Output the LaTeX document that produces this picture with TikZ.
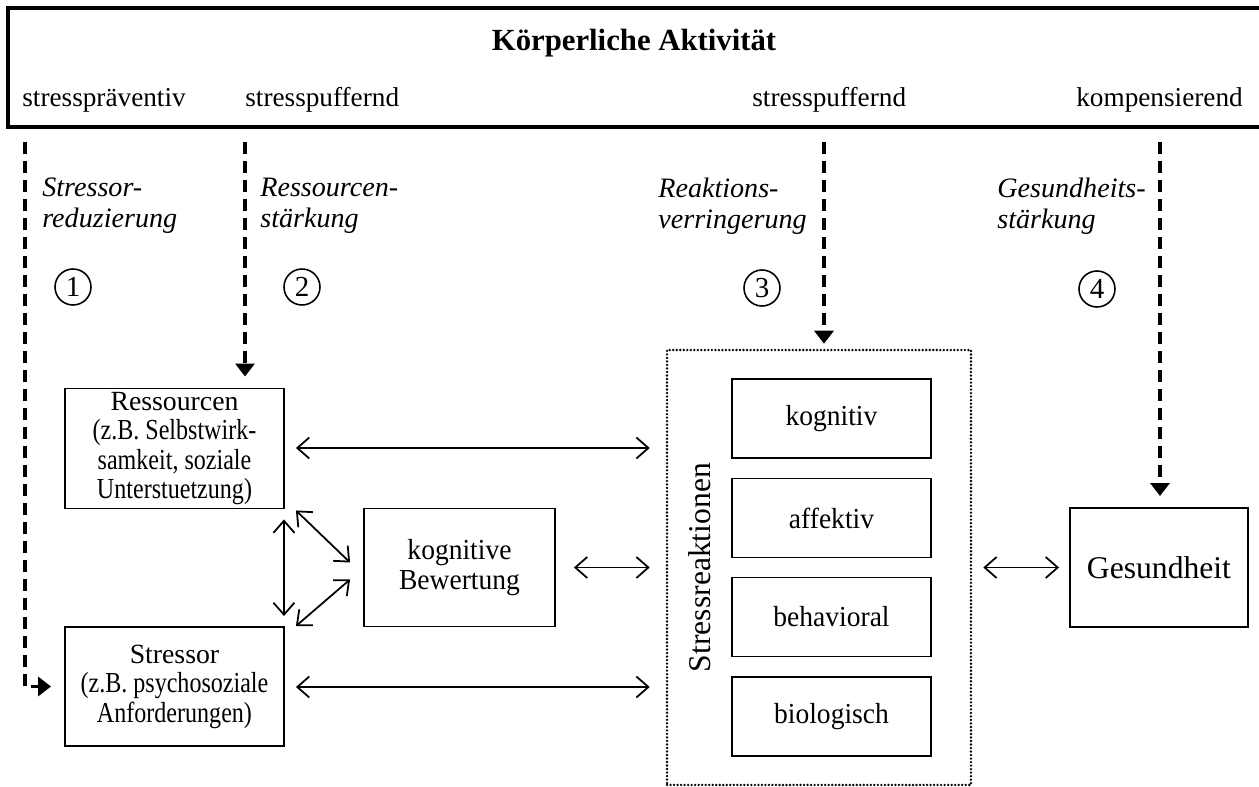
\documentclass[tikz,border=0pt]{standalone}
\usepackage{fontspec}
\setmainfont{Liberation Serif}
\newfontfamily\schmal{Liberation Serif}[FakeStretch=0.83]
\newfontfamily\halbschmal{Liberation Serif}[FakeStretch=0.95]
\usetikzlibrary{arrows.meta,positioning,calc}
\newcommand\grundschrift{\fontsize{15.5}{17}\selectfont}
\newcommand\kopfzeile[1]{{\rmfamily\fontsize{15.8}{16.8}\selectfont #1}}

\begin{document}
\begin{tikzpicture}[x=0.02cm, y=-0.02cm,
    kasten/.style={draw, line width=1.1pt, align=center, inner sep=2pt, font=\halbschmal\fontsize{16.5}{17}\selectfont},
    breitkasten/.style={kasten, minimum width=4.38cm, minimum height=2.38cm, font=\schmal\fontsize{16.5}{16.8}\selectfont},
    teilkasten/.style={kasten, minimum width=3.98cm, minimum height=1.58cm},
    etikett/.style={inner sep=0pt, anchor=base west, font=\grundschrift},
    wirkung/.style={inner sep=0pt, anchor=north west, align=left, font=\fontsize{16}{17.5}\selectfont\itshape},
    ziffer/.style={draw, circle, line width=0.9pt, inner sep=0pt, minimum size=0.72cm, font=\fontsize{16.5}{17}\selectfont},
    strichpfeil/.style={line width=2.1pt, dash pattern=on 0.24cm off 0.14cm, -{Triangle[length=2.6mm,width=3.8mm]}},
    doppelpfeil/.style={line width=1pt, {Straight Barb[length=2.4mm,width=4.2mm]}-{Straight Barb[length=2.4mm,width=4.2mm]}}
  ]
  \useasboundingbox (0,0) rectangle (1259,787);

  % Kopfleiste
  \draw[line width=2.2pt] (1259,8) -| (8,127) -- (1259,127);
  \node[font=\fontsize{17.5}{19}\selectfont\bfseries] (aktiv) at (634,43) {Körperliche Aktivität};
  \node[etikett] (praev) at (22,107) {stresspräventiv};
  \node[etikett] (puffer1) at (245,107) {stresspuffernd};
  \node[etikett] (puffer2) at (752,107) {stresspuffernd};
  \node[etikett] (kompens) at (1076,107) {kompensierend};

  % Wirkwege
  \node[wirkung] (weg1) at (42,178) {Stressor-\\reduzierung};
  \node[wirkung] (weg2) at (260,178) {Ressourcen-\\stärkung};
  \node[wirkung] (weg3) at (658,178) {Reaktions-\\verringerung};
  \node[wirkung] (weg4) at (997,178) {Gesundheits-\\stärkung};
  \node[ziffer] (z1) at (73,287) {1};
  \node[ziffer] (z2) at (302,287) {2};
  \node[ziffer] (z3) at (762,288) {3};
  \node[ziffer] (z4) at (1097,289) {4};

  % Kästen
  \node[breitkasten] (ress) at (174.5,448.5)
    {\kopfzeile{Ressourcen}\\(z.B. Selbstwirk-\\samkeit, soziale\\Unterstuetzung)};
  \node[breitkasten] (stressor) at (174.5,686.5)
    {\kopfzeile{Stressor}\\(z.B. psychosoziale\\Anforderungen)};
  \node[kasten, minimum width=3.82cm, minimum height=2.36cm] (bewert) at (459.5,567.5)
    {kognitive\\Bewertung};
  \node[draw, line width=1.5pt, line cap=round, dash pattern=on 0pt off 2pt,
        minimum width=6.08cm, minimum height=8.7cm] (reakt) at (819,567.5) {};
  \node[rotate=90, inner sep=0pt, font=\fontsize{18}{20}\selectfont] (reakttitel) at (700,567.5) {Stressreaktionen};
  \node[teilkasten] (kogn) at (831.5,418.5) {kognitiv};
  \node[teilkasten] (affekt) at (831.5,518) {affektiv};
  \node[teilkasten] (behav) at (831.5,617) {behavioral};
  \node[teilkasten] (bio) at (831.5,716.5) {biologisch};
  \node[kasten, minimum width=3.56cm, minimum height=2.38cm,
        font=\fontsize{18}{20}\selectfont] (gesund) at (1159,567.5) {Gesundheit};

  % gestrichelte Zugänge
  \coordinate (s1) at (25,142);
  \coordinate (s2) at (245,142);
  \coordinate (s3) at (824,142);
  \coordinate (s4) at (1160,142);
  \draw[strichpfeil, shorten >=0.26cm] (s1) |- (stressor.west);
  \draw[strichpfeil, shorten >=0.22cm] (s2) -- (s2 |- ress.north);
  \draw[strichpfeil, shorten >=0.1cm] (s3) -- (s3 |- reakt.north);
  \draw[strichpfeil, shorten >=0.22cm] (s4) -- (s4 |- gesund.north);

  % Wechselwirkungen
  \draw[doppelpfeil, shorten <=0.22cm, shorten >=0.32cm] (ress.east |- 0,448) -- (reakt.west |- 0,448);
  \draw[doppelpfeil, shorten <=0.22cm, shorten >=0.32cm] (stressor.east |- 0,687) -- (reakt.west |- 0,687);
  \draw[doppelpfeil, shorten <=0.36cm, shorten >=0.32cm] (bewert.east) -- (reakt.west |- bewert.east);
  \draw[doppelpfeil, shorten <=0.22cm, shorten >=0.2cm] (reakt.east |- gesund.west) -- (gesund.west);
  \draw[doppelpfeil] ($(ress.south east)+(-1,10)$) -- ($(stressor.north east)+(-1,-10)$);
  \draw[doppelpfeil] ($(ress.south east)+(11,1)$) -- ($(bewert.west)+(-13,-5)$);
  \draw[doppelpfeil] ($(bewert.west)+(-13,12)$) -- ($(stressor.north east)+(11,0)$);
\end{tikzpicture}
\end{document}
